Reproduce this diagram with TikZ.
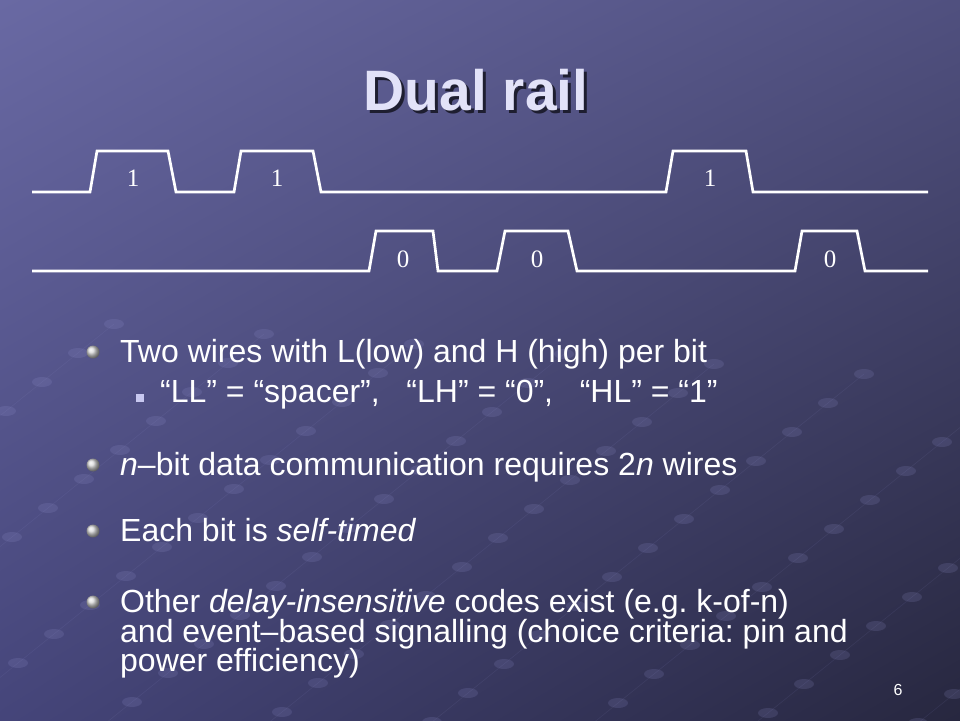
\documentclass[tikz,border=0pt]{standalone}
\usepackage{fontspec}
\setmainfont{Liberation Sans}
\newfontfamily\bitfont{Liberation Serif}
\usepackage{tikz}
\usetikzlibrary{shadings}
\frenchspacing

\definecolor{bgTL}{HTML}{6969A3}
\definecolor{bgTR}{HTML}{50507F}
\definecolor{bgBL}{HTML}{45457A}
\definecolor{bgBR}{HTML}{27273F}
\definecolor{titlefg}{HTML}{E2E2F8}
\definecolor{titleshadow}{HTML}{1E1E30}
\definecolor{blob}{HTML}{9A9AD8}
\definecolor{subsq}{HTML}{C8C8F0}

\begin{document}
\begin{tikzpicture}[x=1pt, y=-1pt,
    wave/.style={white, line width=2.7pt, line join=miter},
    bitlabel/.style={text=white, inner sep=0pt, font=\bitfont\fontsize{25}{25}\selectfont},
    bodytext/.style={anchor=base west, inner sep=0pt, text=white, font=\fontsize{32}{32}\selectfont},
    dotbullet/.style={circle, inner sep=0pt, minimum size=13pt, shading=ball, ball color=gray!30},
    sqbullet/.style={rectangle, inner sep=0pt, minimum size=8pt, fill=subsq}]
    % slide background
    \shade[upper left=bgTL, upper right=bgTR, lower left=bgBL, lower right=bgBR] (0,0) rectangle (960,720);
    \useasboundingbox (0,0) rectangle (960,720);

    % faint grid of blobs
    \begin{scope}
        \clip (0,0) rectangle (960,720);
        \foreach \i in {0,...,14}
            \foreach \j in {-4,...,5}
                \fill[blob, opacity=0.16] ({60+150*\j+36*\i},{760-29*\i+10*\j}) ellipse (10pt and 5pt);
        \foreach \j in {-4,...,5}
            \draw[blob, opacity=0.10, line width=0.6pt] ({60+150*\j},{760+10*\j}) -- ({60+150*\j+36*14},{760-29*14+10*\j});
    \end{scope}

    % title
    \node[text=titleshadow, font=\bfseries\fontsize{57}{57}\selectfont] (titleshd) at (479,93) {Dual rail};
    \node[text=titlefg, font=\bfseries\fontsize{57}{57}\selectfont] (title) at (476,90) {Dual rail};

    % rail 1 (the "1" wire)
    \draw[wave] (32,192) -- (90,192) -- (97,151) -- (168,151) -- (176,192)
        -- (234,192) -- (241,151) -- (313,151) -- (321,192)
        -- (666,192) -- (673,151) -- (746,151) -- (753,192) -- (928,192);
    \node[bitlabel] (one1) at (133,178) {1};
    \node[bitlabel] (one2) at (277,178) {1};
    \node[bitlabel] (one3) at (710,178) {1};

    % rail 0 (the "0" wire)
    \draw[wave] (32,271) -- (369,271) -- (376,231) -- (433,231) -- (438,271)
        -- (497,271) -- (505,231) -- (568,231) -- (577,271)
        -- (795,271) -- (802,231) -- (857,231) -- (865,271) -- (928,271);
    \node[bitlabel] (zero1) at (403,259) {0};
    \node[bitlabel] (zero2) at (537,259) {0};
    \node[bitlabel] (zero3) at (830,259) {0};

    % bullets
    \node[dotbullet] (dot1) at (93,352) {};
    \node[bodytext] (wires) at (120,362) {Two wires with L(low) and H (high) per bit};
    \node[sqbullet] (sq1) at (140,398) {};
    \node[bodytext] (codes) at (160,402) {“LL” = “spacer”,\ \ \ “LH” = “0”,\ \ \ “HL” = “1”};

    \node[dotbullet] (dot2) at (93,465) {};
    \node[bodytext] (nbit) at (120,475) {\textit{n}–bit data communication requires 2\textit{n} wires};

    \node[dotbullet] (dot3) at (93,531) {};
    \node[bodytext] (selft) at (120,541) {Each bit is \textit{self-timed}};

    \node[dotbullet] (dot4) at (93,602) {};
    \node[bodytext] (other1) at (120,612) {Other \textit{delay-insensitive} codes exist (e.g. k-of-n)};
    \node[bodytext] (other2) at (120,642) {and event–based signalling (choice criteria: pin and};
    \node[bodytext] (other3) at (120,671) {power efficiency)};

    % slide number
    \node[text=white, font=\fontsize{16}{16}\selectfont] (pagenum) at (898,690) {6};
\end{tikzpicture}
\end{document}
